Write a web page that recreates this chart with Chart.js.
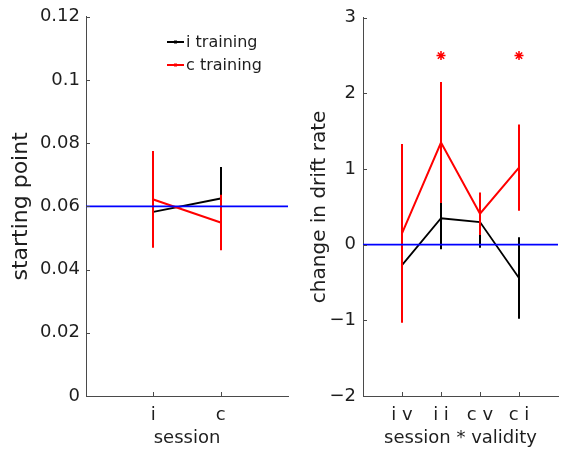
<!DOCTYPE html>
<html>
<head>
<meta charset="utf-8">
<script src="https://cdn.jsdelivr.net/npm/chart.js@4/dist/chart.umd.min.js"></script>
<style>
  html, body { margin: 0; padding: 0; background: #fff; overflow: hidden; width: 562px; height: 452px; }
  canvas { position: absolute; top: 0; }
  #left { left: 0; }
  #right { left: 300px; }
</style>
</head>
<body>
<canvas id="left" width="300" height="452"></canvas>
<canvas id="right" width="264" height="452"></canvas>
<script>
// ---------- data ----------
const sessionCategories = ['i', 'c'];
const startI = [0.0583, 0.0625];       // i training
const startIErr = [0.010, 0.010];
const startC = [0.0622, 0.0549];       // c training
const startCErr = [0.0153, 0.0088];
const startRef = 0.06;
const startTicks = [0, 0.02, 0.04, 0.06, 0.08, 0.10, 0.12];

const condCategories = ['i v', 'i i', 'c v', 'c i'];
const driftI = [-0.27, 0.35, 0.30, -0.44];   // i training
const driftIErr = [0.44, 0.41, 0.34, 0.54];
const driftC = [0.15, 1.35, 0.41, 1.02];     // c training
const driftCErr = [1.18, 0.80, 0.28, 0.57];
const driftRef = 0;
const starCategories = ['i i', 'c i'];
const starLevel = 2.5;
const driftTicks = [-2, -1, 0, 1, 2, 3];

const seriesLabels = ['i training', 'c training'];

// ---------- style ----------
const AXIS = '#4a4a4a';
const TEXT = '#1e1e1e';
const FONT = "'DejaVu Sans', sans-serif";
Chart.defaults.font.family = FONT;
Chart.defaults.font.size = 18;
Chart.defaults.color = TEXT;

const toPts = (vals) => vals.map((v, i) => ({ x: i + 1, y: v }));

const errorBarPlugin = {
  id: 'errorBars',
  afterDatasetDraw(chart, args) {
    const ds = chart.data.datasets[args.index];
    if (!ds.errors) return;
    const xs = chart.scales.x, ys = chart.scales.y, ctx = chart.ctx;
    ctx.save();
    ctx.strokeStyle = ds.borderColor;
    ctx.lineWidth = 2;
    ds.data.forEach((p, i) => {
      const x = Math.round(xs.getPixelForValue(p.x));
      ctx.beginPath();
      ctx.moveTo(x, ys.getPixelForValue(p.y + ds.errors[i]));
      ctx.lineTo(x, ys.getPixelForValue(p.y - ds.errors[i]));
      ctx.stroke();
    });
    ctx.restore();
  }
};

const inwardTicks = {
  id: 'inwardTicks',
  afterDraw(chart) {
    const ctx = chart.ctx, xs = chart.scales.x, ys = chart.scales.y;
    ctx.save();
    ctx.strokeStyle = AXIS;
    ctx.lineWidth = 1;
    ctx.beginPath();
    xs.ticks.forEach(t => {
      const px = Math.round(xs.getPixelForValue(t.value)) + 0.5;
      ctx.moveTo(px, xs.top); ctx.lineTo(px, xs.top - 4);
    });
    ys.ticks.forEach(t => {
      const py = Math.round(ys.getPixelForValue(t.value)) + 0.5;
      ctx.moveTo(ys.right, py); ctx.lineTo(ys.right + 4, py);
    });
    ctx.stroke();
    ctx.restore();
  }
};

const legendPlugin = {
  id: 'customLegend',
  afterDraw(chart, args, opts) {
    if (!opts.show) return;
    const ctx = chart.ctx;
    const items = chart.data.datasets.filter(d => d.inLegend).sort((a, b) => a.legendRank - b.legendRank);
    ctx.save();
    ctx.font = "16px " + FONT;
    ctx.textBaseline = 'middle';
    ctx.textAlign = 'left';
    items.forEach((d, k) => {
      const y = 42 + k * 23;
      ctx.strokeStyle = d.borderColor;
      ctx.lineWidth = 2;
      ctx.beginPath(); ctx.moveTo(167, y); ctx.lineTo(184, y); ctx.stroke();
      ctx.fillStyle = d.borderColor;
      ctx.fillRect(174, y - 1.5, 3, 3);
      ctx.fillStyle = TEXT;
      ctx.fillText(d.label, 186, y + 1);
    });
    ctx.restore();
  }
};

function makeOptions(cfg) {
  return {
    responsive: false,
    animation: false,
    devicePixelRatio: 1,
    layout: { padding: { left: 0, right: cfg.padRight, top: 15, bottom: 0 } },
    plugins: { legend: { display: false }, tooltip: { enabled: false }, customLegend: { show: cfg.legend } },
    scales: {
      x: {
        type: 'linear', min: 0, max: cfg.xMax,
        grid: { display: false, drawTicks: false },
        border: { display: true, color: AXIS, width: 1 },
        afterBuildTicks: (s) => { s.ticks = cfg.cats.map((c, i) => ({ value: i + 1 })); },
        afterFit: (s) => { s.height = 56; },
        ticks: { autoSkip: false, maxRotation: 0, padding: 9, font: { size: 18 }, color: TEXT,
                 callback: (v) => cfg.cats[Math.round(v) - 1] ?? '' },
        title: { display: true, text: cfg.xTitle, font: { size: 18 }, color: TEXT, padding: { top: 0, bottom: 3 } }
      },
      y: {
        min: cfg.yTicks[0], max: cfg.yTicks[cfg.yTicks.length - 1],
        grid: { display: false, drawTicks: false },
        border: { display: true, color: AXIS, width: 1 },
        afterBuildTicks: (s) => { s.ticks = cfg.yTicks.map(v => ({ value: v })); },
        afterFit: (s) => { s.width = cfg.yWidth; },
        ticks: { padding: cfg.yPad, font: { size: 18 }, color: TEXT, callback: cfg.yFmt },
        title: { display: true, text: cfg.yTitle, font: { size: cfg.yTitleSize }, color: TEXT, padding: { top: 8, bottom: 0 } }
      }
    }
  };
}

function makeDatasets(iVals, iErr, cVals, cErr, ref, xMax, stars, cats) {
  const ds = [
    { label: 'ref', data: [{ x: 0, y: ref }, { x: xMax, y: ref }], borderColor: '#0000ff', borderWidth: 1.8, pointRadius: 0, order: 0 },
    { label: seriesLabels[1], data: toPts(cVals), errors: cErr, borderColor: '#ff0000', borderWidth: 2, pointRadius: 0, order: 2, inLegend: true, legendRank: 1 },
    { label: seriesLabels[0], data: toPts(iVals), errors: iErr, borderColor: '#000000', borderWidth: 1.8, pointRadius: 0, order: 3, inLegend: true, legendRank: 0 }
  ];
  if (stars) {
    ds.push({ label: 'sig', data: stars.map(c => ({ x: cats.indexOf(c) + 1, y: starLevel })), showLine: false,
              pointStyle: 'star', pointRadius: 4.5, borderColor: '#ff0000', backgroundColor: '#ff0000', pointBorderWidth: 1.5, order: 1 });
  }
  return ds;
}

new Chart(document.getElementById('left'), {
  type: 'line',
  data: { datasets: makeDatasets(startI, startIErr, startC, startCErr, startRef, 3, null, sessionCategories) },
  options: makeOptions({
    xMax: 3, cats: sessionCategories, xTitle: 'session', yTitle: 'starting point', yTitleSize: 22,
    yTicks: startTicks, yWidth: 86, yPad: 6, padRight: 12, legend: true,
    yFmt: (v) => String(Number(v.toFixed(2)))
  }),
  plugins: [errorBarPlugin, inwardTicks, legendPlugin]
});

new Chart(document.getElementById('right'), {
  type: 'line',
  data: { datasets: makeDatasets(driftI, driftIErr, driftC, driftCErr, driftRef, 5, starCategories, condCategories) },
  options: makeOptions({
    xMax: 5, cats: condCategories, xTitle: 'session * validity', yTitle: 'change in drift rate', yTitleSize: 20,
    yTicks: driftTicks, yWidth: 63, yPad: 7, padRight: 0, legend: false,
    yFmt: (v) => v < 0 ? '\u2212' + Math.abs(v) : String(v)
  }),
  plugins: [errorBarPlugin, inwardTicks, legendPlugin]
});
</script>
</body>
</html>
